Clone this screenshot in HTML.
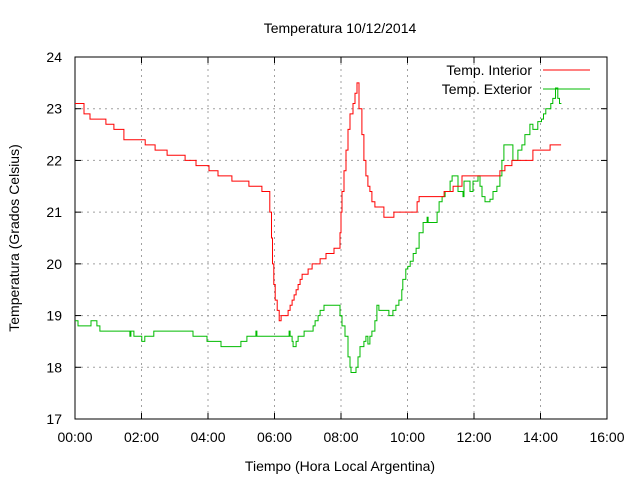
<!DOCTYPE html>
<html><head><meta charset="utf-8"><style>
body{margin:0;background:#fff}
svg{display:block;font-family:"Liberation Sans",sans-serif}
</style></head><body>
<svg id="chart" width="640" height="480" viewBox="0 0 640 480" xmlns="http://www.w3.org/2000/svg">
<rect width="640" height="480" fill="#fff"/>
<g id="grid"></g>
<g id="axes"></g>
<g id="series"></g>
<text x="340" y="33" font-size="14" text-anchor="middle">Temperatura 10/12/2014</text>
<text x="340" y="471" font-size="14" text-anchor="middle">Tiempo (Hora Local Argentina)</text>
<text transform="translate(19,238) rotate(-90)" font-size="14" text-anchor="middle">Temperatura (Grados Celsius)</text>
<g>
<text x="532" y="75" font-size="14" text-anchor="end">Temp. Interior</text>
<line x1="543" y1="70" x2="590" y2="70" stroke="#f00" stroke-width="1"/>
<text x="532" y="94" font-size="14" text-anchor="end">Temp. Exterior</text>
<line x1="543" y1="89" x2="590" y2="89" stroke="#0b0" stroke-width="1"/>
</g>
</svg>
<script>
const xTicks=[0,2,4,6,8,10,12,14,16];
const xTickLabels=["00:00","02:00","04:00","06:00","08:00","10:00","12:00","14:00","16:00"];
const yTicks=[17,18,19,20,21,22,23,24];
const interiorTimes=[0,0.27,0.45,0.93,1.17,1.47,2.11,2.41,2.77,3.31,3.64,4.03,4.30,4.72,5.23,5.62,5.86,5.91,5.94,5.98,6.02,6.08,6.14,6.2,6.41,6.47,6.53,6.59,6.65,6.71,6.77,6.83,7.01,7.13,7.37,7.55,7.79,7.97,8.0,8.03,8.09,8.15,8.21,8.27,8.36,8.42,8.48,8.54,8.63,8.69,8.75,8.81,8.87,8.93,9.02,9.29,9.59,10.29,10.35,11.1,11.37,11.64,11.88,12.78,12.93,13.14,13.77,14.29,14.62];
const interiorTemps=[23.1,22.9,22.8,22.7,22.6,22.4,22.3,22.2,22.1,22.0,21.9,21.8,21.7,21.6,21.5,21.4,21.0,20.5,20.0,19.6,19.3,19.1,18.9,19.0,19.1,19.2,19.3,19.4,19.5,19.6,19.7,19.8,19.9,20.0,20.1,20.2,20.3,20.6,21.0,21.4,21.8,22.2,22.6,22.9,23.1,23.3,23.5,23.0,22.5,22.0,21.7,21.5,21.4,21.2,21.1,20.9,21.0,21.2,21.3,21.4,21.5,21.7,21.7,21.8,21.9,22.0,22.2,22.3,22.3];
const exteriorTimes=[0,0.09,0.24,0.48,0.66,0.75,1.65,1.68,1.77,2.01,2.04,2.1,2.34,2.37,2.46,3.46,3.55,3.94,3.97,4.36,4.39,4.96,4.99,5.17,5.44,5.47,6.17,6.44,6.47,6.53,6.56,6.65,6.71,6.89,7.16,7.22,7.31,7.37,7.49,7.67,7.97,8.03,8.12,8.21,8.27,8.30,8.36,8.45,8.51,8.57,8.69,8.75,8.81,8.87,8.93,9.02,9.08,9.14,9.44,9.56,9.65,9.74,9.83,9.86,9.95,10.01,10.08,10.17,10.26,10.35,10.47,10.59,10.62,10.89,10.95,11.04,11.13,11.28,11.34,11.37,11.52,11.67,11.70,11.88,11.97,12.12,12.18,12.24,12.33,12.48,12.57,12.69,12.78,12.84,12.90,12.98,13.17,13.23,13.32,13.44,13.53,13.68,13.77,13.83,13.92,14.03,14.09,14.16,14.31,14.37,14.45,14.52,14.57,14.63];
const exteriorTemps=[18.9,18.8,18.8,18.9,18.8,18.7,18.6,18.7,18.6,18.5,18.5,18.6,18.6,18.7,18.7,18.7,18.6,18.6,18.5,18.5,18.4,18.4,18.5,18.6,18.7,18.6,18.6,18.7,18.6,18.5,18.4,18.5,18.6,18.7,18.8,18.9,19.0,19.1,19.2,19.2,19.0,18.8,18.6,18.2,18.0,17.9,17.9,18.0,18.2,18.4,18.5,18.6,18.45,18.6,18.7,18.9,19.2,19.1,19.0,19.1,19.2,19.3,19.5,19.7,19.9,19.95,20.05,20.2,20.3,20.6,20.8,20.9,20.8,21.0,21.2,21.3,21.4,21.6,21.7,21.7,21.4,21.3,21.6,21.4,21.6,21.7,21.5,21.3,21.2,21.25,21.4,21.5,21.7,22.0,22.3,22.3,22.0,22.0,22.2,22.3,22.5,22.7,22.6,22.6,22.75,22.8,22.9,23.0,23.1,23.2,23.4,23.2,23.1,23.1];
const NS="http://www.w3.org/2000/svg";
const X0=75,X1=607,Y0=419,Y1=57;
const xScale=h=>X0+(h-0)/(16-0)*(X1-X0);
const yScale=t=>Y0-(t-17)/(24-17)*(Y0-Y1);
function mk(tag,attrs,parent){const e=document.createElementNS(NS,tag);for(const k in attrs)e.setAttribute(k,attrs[k]);parent.appendChild(e);return e;}
const grid=document.getElementById('grid'),axes=document.getElementById('axes'),series=document.getElementById('series');
xTicks.forEach((v,i)=>{const x=xScale(v);
 if(i>0&&i<xTicks.length-1){const g=mk('line',{x1:x,y1:Y0,x2:x,y2:Y1,stroke:'#a0a0a0','stroke-dasharray':'2,4'},grid);
 
 }
 const t1=mk('line',{x1:x,y1:Y0,x2:x,y2:Y0-6,stroke:'#000'},axes);
 
 
 const t2=mk('line',{x1:x,y1:Y1,x2:x,y2:Y1+6,stroke:'#000'},axes);
 
 
 const l=mk('text',{x:x,y:442,'font-size':14,'text-anchor':'middle'},axes);l.textContent=xTickLabels[i];
 
 
});
yTicks.forEach(v=>{const y=yScale(v);
 if(v>17&&v<24){const g=mk('line',{x1:X0,y1:y,x2:X1,y2:y,stroke:'#a0a0a0','stroke-dasharray':'2,4'},grid);
 
 }
 const t1=mk('line',{x1:X0,y1:y,x2:X0+6,y2:y,stroke:'#000'},axes);
 
 
 const t2=mk('line',{x1:X1,y1:y,x2:X1-6,y2:y,stroke:'#000'},axes);
 
 
 const l=mk('text',{x:62,y:y+5,'font-size':14,'text-anchor':'end'},axes);l.textContent=String(v);
 
 
});
const frame=mk('rect',{x:X0,y:Y1,width:X1-X0,height:Y0-Y1,fill:'none',stroke:'#000'},axes);


function stepPath(ts,vs){let d='';for(let i=0;i<ts.length;i++){const x=xScale(ts[i]).toFixed(1),y=yScale(vs[i]).toFixed(1);
 if(i===0)d+='M'+x+','+y;else d+='H'+x+'V'+y;}return d;}
const pe=mk('path',{d:stepPath(exteriorTimes,exteriorTemps),fill:'none',stroke:'#0b0','stroke-width':1},series);


const pi=mk('path',{d:stepPath(interiorTimes,interiorTemps),fill:'none',stroke:'#f00','stroke-width':1},series);


</script>
</body></html>
